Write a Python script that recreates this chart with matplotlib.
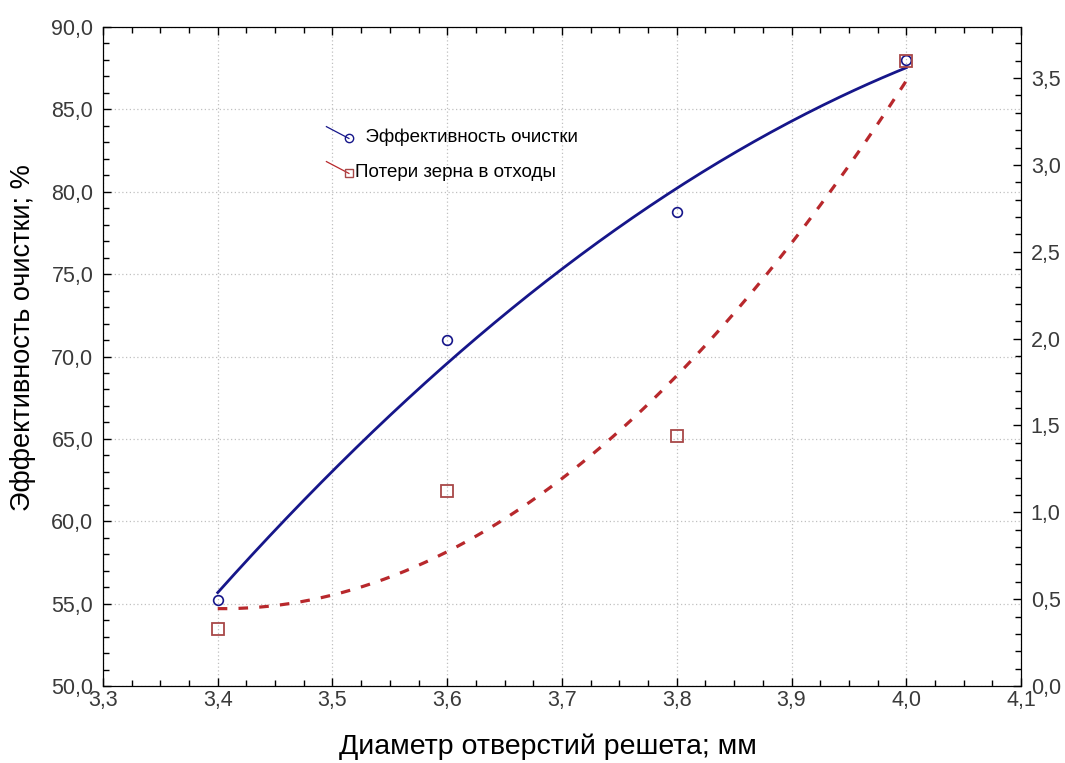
import numpy as np
import matplotlib
matplotlib.use('Agg')
import matplotlib.pyplot as plt
from matplotlib.ticker import MultipleLocator, FuncFormatter
from matplotlib.legend_handler import HandlerBase
from matplotlib.lines import Line2D

plt.rcParams['font.family'] = ['Liberation Sans', 'DejaVu Sans']

# Data
diameter = [3.4, 3.6, 3.8, 4.0]
efficiency = [55.2, 71.0, 78.8, 88.0]
losses = [0.33, 1.12, 1.44, 3.6]

eff_label = '  Эффективность очистки'
loss_label = 'Потери зерна в отходы'
x_title = 'Диаметр отверстий решета; мм'
y_title = 'Эффективность очистки; %'


def comma(fmt):
    return FuncFormatter(lambda v, pos: fmt.format(v).replace('.', ','))


class SlantHandler(HandlerBase):
    # short slanted line with the marker at its lower end, like the original legend
    def create_artists(self, legend, orig, xdescent, ydescent, width, height, fontsize, trans):
        x0, x1 = -xdescent, -xdescent + width
        y0, y1 = -ydescent + height * 1.15, -ydescent + height * 0.25
        line = Line2D([x0, x1], [y0, y1], color=orig.get_color(), lw=0.9, transform=trans)
        mark = Line2D([x1], [y1], ls='none', marker=orig.get_marker(), mfc='none',
                      mec=orig.get_markeredgecolor(), ms=6, mew=1, transform=trans)
        return [line, mark]


fig = plt.figure(figsize=(10.65, 7.63), dpi=100)
ax = fig.add_axes([0.0967, 0.1009, 0.8620, 0.8637])
ax2 = ax.twinx()

# quadratic fits, like the original software
xs = np.linspace(diameter[0], diameter[-1], 200)
eff_fit = np.polyval(np.polyfit(diameter, efficiency, 2), xs)
loss_fit = np.polyval(np.polyfit(diameter, losses, 2), xs)

blue = '#16168a'
red = '#b8282c'

ax.plot(xs, eff_fit, color=blue, lw=2, zorder=3)
ax.plot(diameter, efficiency, 'o', mfc='none', mec=blue, ms=7, mew=1.2, zorder=4)
ax2.plot(xs, loss_fit, color=red, lw=2.3, ls=(0, (3, 3.5)), zorder=3)
ax2.plot(diameter, losses, 's', mfc='none', mec='#a84848', ms=9, mew=1.3, zorder=4)

ax.set_xlim(3.3, 4.1)
ax.set_ylim(50, 90)
ax2.set_ylim(0, 3.794)

ax.xaxis.set_major_locator(MultipleLocator(0.1))
ax.xaxis.set_minor_locator(MultipleLocator(0.025))
ax.yaxis.set_major_locator(MultipleLocator(5))
ax.yaxis.set_minor_locator(MultipleLocator(1))
ax2.yaxis.set_major_locator(MultipleLocator(0.5))
ax2.yaxis.set_minor_locator(MultipleLocator(0.1))

ax.xaxis.set_major_formatter(comma('{:.1f}'))
ax.yaxis.set_major_formatter(comma('{:.1f}'))
ax2.yaxis.set_major_formatter(comma('{:.1f}'))

ax.tick_params(axis='x', which='both', direction='in', top=True, labelsize=15.5, pad=3)
ax.tick_params(axis='y', which='both', direction='in', labelsize=15.5, pad=7)
ax2.tick_params(axis='y', which='both', direction='in', labelsize=15.5, pad=7)
for a in (ax, ax2):
    a.tick_params(which='major', length=6, width=1)
    a.tick_params(which='minor', length=4, width=1)
for lbl in ax.get_xticklabels() + ax.get_yticklabels() + ax2.get_yticklabels():
    lbl.set_color('#3a3a3a')

ax.grid(True, which='major', ls=(0, (1, 2)), color='#c0c0c0', lw=0.9)
ax.set_axisbelow(True)

ax.set_xlabel(x_title, fontsize=20.5)
ax.set_ylabel(y_title, fontsize=19.5)
ax.xaxis.set_label_coords(0.485, -0.072)
ax.yaxis.set_label_coords(-0.073, 0.528)

# legend handles in place of the plotted series
h1 = Line2D([], [], color=blue, marker='o', mec=blue)
h2 = Line2D([], [], color=red, marker='s', mec='#a84848')
ax.legend([h1, h2], [eff_label, loss_label], loc='upper left',
          bbox_to_anchor=(0.225, 0.872), frameon=False, fontsize=13.5,
          handlelength=1.2, handletextpad=0.3, labelspacing=0.95,
          handler_map={h1: SlantHandler(), h2: SlantHandler()})

fig.savefig('out.png', dpi=100)
